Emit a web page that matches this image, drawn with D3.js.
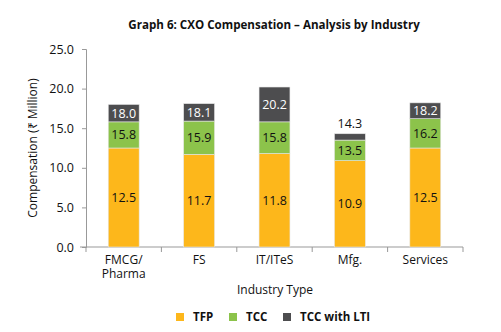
<!DOCTYPE html>
<html><head><meta charset="utf-8">
<script src="https://cdn.jsdelivr.net/npm/d3@7"></script>
<style>body{margin:0;background:#fff;} svg{display:block;font-family:"Open Sans",sans-serif;}</style>
</head><body><svg id="c" width="501" height="332"></svg>
<script>
const categories = ["FMCG/\nPharma", "FS", "IT/ITeS", "Mfg.", "Services"];
const tfp = [12.5, 11.7, 11.8, 10.9, 12.5];
const tcc = [15.8, 15.9, 15.8, 13.5, 16.2];
const tccLti = [18.0, 18.1, 20.2, 14.3, 18.2];
const yTicks = [0, 5, 10, 15, 20, 25];
const seriesNames = ["TFP", "TCC", "TCC with LTI"];
const colors = ["#FDB71B", "#8CC34B", "#4D4D4F"];

const svg = d3.select("#c");
const x = d3.scaleBand().domain(categories).range([86, 463]).paddingInner(0.59).paddingOuter(0.295);
const y = d3.scaleLinear().domain([0, 25]).range([247, 49]);

svg.append("text").attr("x", 274).attr("y", 29).attr("text-anchor", "middle")
  .attr("font-weight", "bold").attr("font-size", 11.6).attr("fill", "#111")
  .text("Graph 6: CXO Compensation – Analysis by Industry");

// y axis
const ya = svg.append("g").attr("transform", "translate(86,0)")
  .call(d3.axisLeft(y).tickValues(yTicks).tickFormat(d3.format(".1f")).tickSize(4).tickPadding(8));
ya.select(".domain").attr("stroke", "#999");
ya.selectAll(".tick line").attr("stroke", "#999");
ya.selectAll("text").attr("font-size", 12.5).attr("fill", "#111").attr("font-family", "Open Sans");

// x axis
const xa = svg.append("g").attr("transform", "translate(0,247)");
xa.append("line").attr("x1", 80).attr("x2", 463).attr("y1", 0).attr("y2", 0).attr("stroke", "#999");
const bounds = categories.map(c => x(c) - x.step() * x.paddingInner() / 2);
bounds.push(463);
bounds[0] = 86;
xa.selectAll("line.t").data(bounds).join("line").attr("class", "t")
  .attr("x1", d => d).attr("x2", d => d).attr("y1", 0).attr("y2", 5).attr("stroke", "#999");
categories.forEach(c => {
  c.split("\n").forEach((line, i) => xa.append("text").attr("text-anchor", "middle")
    .attr("font-size", 12).attr("fill", "#111")
    .attr("x", x(c) + x.bandwidth() / 2).attr("y", 17 + i * 14).text(line));
});

// stacked bars
const bars = svg.append("g");
categories.forEach((c, i) => {
  const segs = [[0, tfp[i]], [tfp[i], tcc[i]], [tcc[i], tccLti[i]]];
  const bx = x(c), bw = x.bandwidth();
  segs.forEach((s, k) => {
    bars.append("rect").attr("x", bx).attr("width", bw)
      .attr("y", y(s[1])).attr("height", y(s[0]) - y(s[1]))
      .attr("fill", colors[k]).attr("stroke", "#e6e6e6").attr("stroke-width", 0.6);
  });
  segs.forEach((s, k) => {
    const h = y(s[0]) - y(s[1]);
    const inside = h > 10;
    const cy = inside ? (y(s[0]) + y(s[1])) / 2 + 4.5 : y(s[1]) - 6;
    bars.append("text").attr("x", bx + bw / 2).attr("y", cy).attr("text-anchor", "middle")
      .attr("font-size", 12.5).attr("fill", k === 2 && inside ? "#fff" : "#111")
      .text(d3.format(".1f")(s[1]));
  });
});

// axis titles
svg.append("text").attr("transform", "translate(37,148) rotate(-90)").attr("text-anchor", "middle")
  .attr("font-size", 12).attr("fill", "#111").text("Compensation (₹ Million)");
svg.append("text").attr("x", 275).attr("y", 294).attr("text-anchor", "middle")
  .attr("font-size", 12).attr("fill", "#111").text("Industry Type");

// legend
const lx = [176, 229, 283];
seriesNames.forEach((n, k) => {
  svg.append("rect").attr("x", lx[k]).attr("y", 313).attr("width", 8).attr("height", 8).attr("fill", colors[k]);
  svg.append("text").attr("x", lx[k] + 17).attr("y", 321).attr("font-size", 11.5).attr("font-weight", "bold")
    .attr("fill", "#111").text(n);
});
</script></body></html>
